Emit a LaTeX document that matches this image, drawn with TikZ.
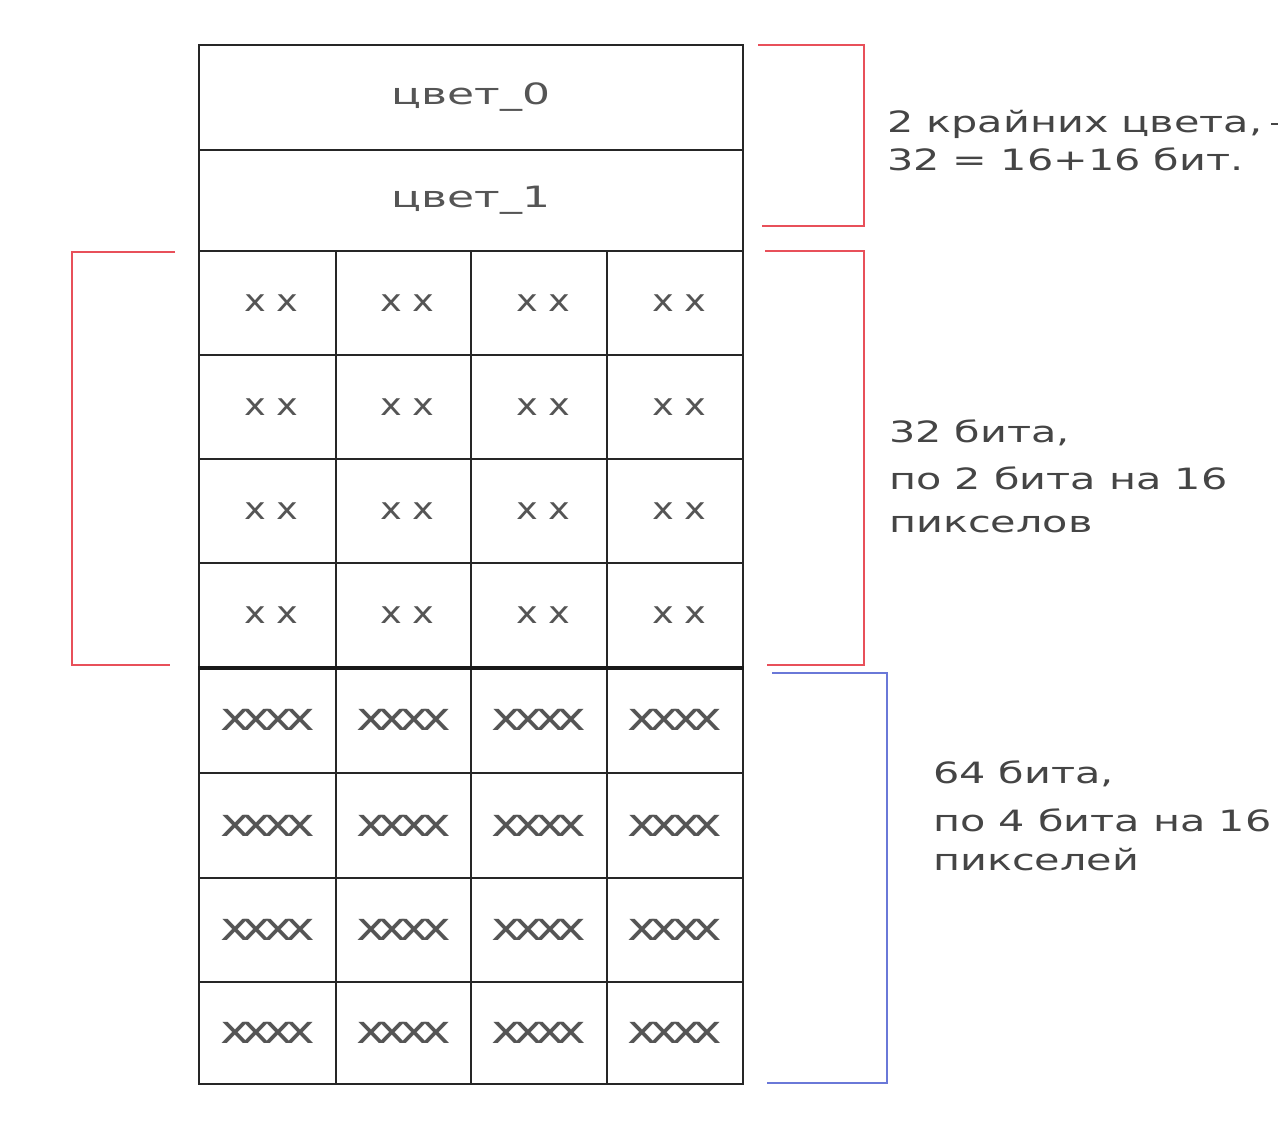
\documentclass[tikz,border=0pt]{standalone}
\usepackage{graphicx}
\usepackage{fontspec}
\setmainfont{DejaVu Sans}
\definecolor{txt}{HTML}{454545}
\definecolor{celltxt}{HTML}{555555}
\definecolor{bred}{HTML}{E8505A}
\definecolor{bblue}{HTML}{6A78D8}
\newcommand{\wide}[2]{\scalebox{#1}[1]{#2}}
\begin{document}
\begin{tikzpicture}[x=0.75pt,y=-0.75pt,
  cellbox/.style={draw=black!85, line width=1.4pt, inner sep=0pt, text=celltxt},
  lbl/.style={anchor=base west, text=txt, inner sep=0pt, font=\fontsize{22}{25}\selectfont},
  bracketline/.style={line width=1.5pt}]
\useasboundingbox[fill=white] (0,0) rectangle (1278,1130);
% colour rows
\node[cellbox, minimum width=544*0.75pt, minimum height=105*0.75pt, font=\fontsize{22}{24}\selectfont] (c0) at (471,97.5) {\wide{1.5}{цвет\_0}};
\node[cellbox, minimum width=544*0.75pt, minimum height=101*0.75pt, font=\fontsize{22}{24}\selectfont] (c1) at (471,200.5) {\wide{1.5}{цвет\_1}};
% 2-bit rows
\foreach \r/\ya/\yb in {1/251/355,2/355/459,3/459/563,4/563/667}{
  \foreach \c/\xa/\xb in {1/199/336,2/336/471,3/471/607,4/607/743}{
    \node[cellbox, minimum width={(\xb-\xa)*0.75pt}, minimum height={(\yb-\ya)*0.75pt},
      font=\fontsize{23}{24}\selectfont] (a\r\c) at ({(\xa+\xb)/2},{(\ya+\yb)/2}) {\hspace{6pt}\wide{1.2}{x\hspace{6.5pt}x}};
  }
}
% 4-bit rows
\foreach \r/\ya/\yb in {1/667/773,2/773/878,3/878/982,4/982/1084}{
  \foreach \c/\xa/\xb in {1/199/336,2/336/471,3/471/607,4/607/743}{
    \node[cellbox, minimum width={(\xb-\xa)*0.75pt}, minimum height={(\yb-\ya)*0.75pt},
      font=\fontsize{29}{30}\selectfont] (b\r\c) at ({(\xa+\xb)/2},{(\ya+\yb)/2}) {\wide{1.3}{\addfontfeature{LetterSpace=-16}xxxx}};
  }
}
\draw[line width=2.6pt, black!90] (a41.south west) -- (a44.south east);
% brackets
\coordinate (r1a) at (758,45); \coordinate (r1b) at (864,45);
\coordinate (r1c) at (864,226); \coordinate (r1d) at (762,226);
\draw[bracketline, bred] (r1a) -- (r1b) -- (r1c) -- (r1d);
\coordinate (r2a) at (765,251); \coordinate (r2b) at (864,251);
\coordinate (r2c) at (864,665); \coordinate (r2d) at (767,665);
\draw[bracketline, bred] (r2a) -- (r2b) -- (r2c) -- (r2d);
\coordinate (l1a) at (175,252); \coordinate (l1b) at (72,252);
\coordinate (l1c) at (72,665); \coordinate (l1d) at (170,665);
\draw[bracketline, bred] (l1a) -- (l1b) -- (l1c) -- (l1d);
\coordinate (b1a) at (772,673); \coordinate (b1b) at (887,673);
\coordinate (b1c) at (887,1083); \coordinate (b1d) at (767,1083);
\draw[bracketline, bblue] (b1a) -- (b1b) -- (b1c) -- (b1d);
% labels
\node[lbl] (t1a) at (887,133) {\wide{1.41}{2 крайних цвета,}};
\coordinate (dasha) at (1271,124); \coordinate (dashb) at (1278,124);
\draw[txt, line width=1.6pt] (dasha) -- (dashb);
\node[lbl] (t1b) at (887,171) {\wide{1.41}{32 = 16+16 бит.}};
\node[lbl] (t2a) at (889,443) {\wide{1.41}{32 бита,}};
\node[lbl] (t2b) at (889,489) {\wide{1.41}{по 2 бита на 16}};
\node[lbl] (t2c) at (889,532) {\wide{1.41}{пикселов}};
\node[lbl] (t3a) at (933,783) {\wide{1.41}{64 бита,}};
\node[lbl] (t3b) at (933,831) {\wide{1.41}{по 4 бита на 16}};
\node[lbl] (t3c) at (933,870) {\wide{1.41}{пикселей}};
\end{tikzpicture}
\end{document}
